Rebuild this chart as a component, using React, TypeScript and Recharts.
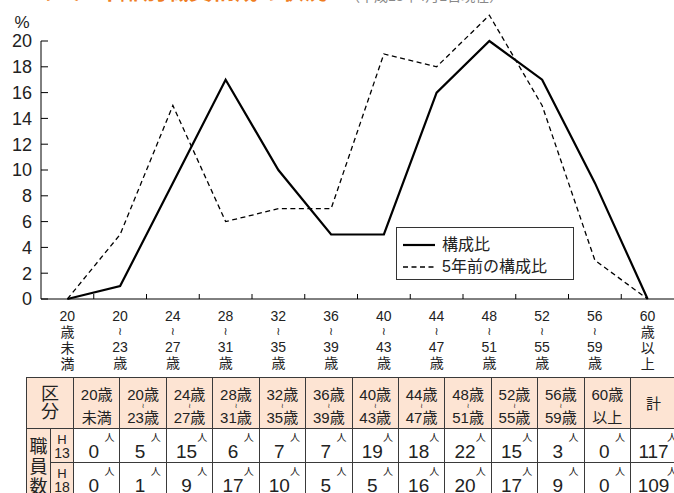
import React from 'react';
import { LineChart, Line, XAxis, YAxis, Legend } from 'recharts';

// ---------- data ----------
const categories = ['20歳未満', '20〜23歳', '24〜27歳', '28〜31歳', '32〜35歳', '36〜39歳', '40〜43歳', '44〜47歳', '48〜51歳', '52〜55歳', '56〜59歳', '60歳以上'];
const ageFrom = ['20', '20', '24', '28', '32', '36', '40', '44', '48', '52', '56', '60'];
const ageTo = ['', '23', '27', '31', '35', '39', '43', '47', '51', '55', '59', ''];
const openEndText = ['未満', '', '', '', '', '', '', '', '', '', '', '以上'];
const staffH18 = [0, 1, 9, 17, 10, 5, 5, 16, 20, 17, 9, 0]; // 構成比
const staffH13 = [0, 5, 15, 6, 7, 7, 19, 18, 22, 15, 3, 0]; // 5年前の構成比
const totalH13 = 117;
const totalH18 = 109;
const yTicks = [0, 2, 4, 6, 8, 10, 12, 14, 16, 18, 20];
const seriesNames = ['構成比', '5年前の構成比'];
const rowLabels = ['13', '18'];

const chartData = categories.map((c, i) => ({ name: c, now: staffH18[i], prev: staffH13[i] }));

// ---------- layout / style ----------
const FONT = '"Liberation Sans", "Noto Sans CJK JP", sans-serif';
const TEXT = '#222';
const W = 674;
const PLOT_LEFT = 41;
const PLOT_TOP = 41;
const CHART_H = 377;
const XAXIS_H = 78;
const HALF_BAND = (W - PLOT_LEFT) / categories.length / 2;

const PEACH = '#fde4d3';
const BORDER = '#3a3a3a';
const T_LEFT = 26;
const T_TOP = 377;
const W_L1 = 24;
const W_L2 = 23;
const W_COL = 46.42;
const W_TOTAL = 52;
const H_HEAD = 51;
const H_ROW = 34;

function XTick(props: any) {
  const { x, y, payload } = props;
  const i = categories.indexOf(payload.value);
  const isRange = ageTo[i] !== '';
  const common = { x, textAnchor: 'middle' as const, fontSize: 14, fill: TEXT, fontFamily: FONT };
  return (
    <g>
      {i < categories.length - 1 && (
        <line x1={x + HALF_BAND} y1={y} x2={x + HALF_BAND} y2={y - 5} stroke="#000" strokeWidth={1} />
      )}
      <text {...common} y={y + 22}>{ageFrom[i]}</text>
      {isRange ? (
        <>
          <text x={x} y={y + 36} textAnchor="middle" fontSize={11} fill={TEXT} fontFamily='"DejaVu Sans", sans-serif'>
            ≀
          </text>
          <text {...common} y={y + 53}>{ageTo[i]}</text>
          <text {...common} y={y + 69}>歳</text>
        </>
      ) : (
        <>
          <text {...common} y={y + 38}>歳</text>
          <text {...common} y={y + 54}>{openEndText[i].charAt(0)}</text>
          <text {...common} y={y + 70}>{openEndText[i].charAt(1)}</text>
        </>
      )}
    </g>
  );
}

function YTick(props: any) {
  const { x, y, payload } = props;
  return (
    <g>
      <line x1={x} y1={y} x2={x + 7} y2={y} stroke="#000" strokeWidth={1} />
      <text x={x - 9} y={y} dy="0.36em" textAnchor="end" fontSize={18} fill={TEXT} fontFamily={FONT}>
        {payload.value}
      </text>
    </g>
  );
}

function LegendBox(props: any) {
  const payload = [...(props.payload || [])].sort(
    (a: any, b: any) => seriesNames.indexOf(a.value) - seriesNames.indexOf(b.value)
  );
  return (
    <div
      style={{
        width: 176,
        height: 45,
        border: '1px solid #333',
        background: '#fff',
        fontFamily: FONT,
        fontSize: 16,
        color: TEXT,
        paddingTop: 6,
        boxSizing: 'content-box',
      }}
    >
      {payload.map((entry: any, k: number) => (
        <div key={k} style={{ display: 'flex', alignItems: 'center', height: 22 }}>
          <svg width={34} height={10} style={{ marginLeft: 6 }}>
            <line
              x1={0}
              y1={5}
              x2={32}
              y2={5}
              stroke="#000"
              strokeWidth={entry.payload?.strokeWidth ?? 1.5}
              strokeDasharray={entry.payload?.strokeDasharray}
            />
          </svg>
          <span style={{ marginLeft: 5, lineHeight: '22px' }}>{entry.value}</span>
        </div>
      ))}
    </div>
  );
}

function Cell({ left, top, width, height, bg, children }: any) {
  return (
    <div
      style={{
        position: 'absolute',
        left,
        top,
        width,
        height,
        background: bg || '#fff',
        borderLeft: `1px solid ${BORDER}`,
        borderTop: `1px solid ${BORDER}`,
        boxSizing: 'border-box',
        overflow: 'visible',
      }}
    >
      {children}
    </div>
  );
}

function Line1({ cy, size, children, dx = 0 }: any) {
  const lh = size;
  return (
    <div
      style={{
        position: 'absolute',
        left: dx,
        right: -dx,
        top: cy - lh / 2,
        height: lh,
        lineHeight: `${lh}px`,
        fontSize: size,
        textAlign: 'center',
        whiteSpace: 'nowrap',
      }}
    >
      {children}
    </div>
  );
}

function Wave({ cy }: any) {
  return (
    <div
      style={{
        position: 'absolute',
        left: 0,
        right: 0,
        top: cy - 3,
        height: 6,
        lineHeight: '6px',
        fontSize: 7,
        textAlign: 'center',
        fontFamily: '"DejaVu Sans", sans-serif',
      }}
    >
      ≀
    </div>
  );
}

function DataTable() {
  const colX = (i: number) => T_LEFT + W_L1 + W_L2 + i * W_COL;
  const totalX = colX(categories.length);
  const rows = [
    { label: rowLabels[0], values: staffH13, total: totalH13 },
    { label: rowLabels[1], values: staffH18, total: totalH18 },
  ];
  const NumCell = ({ left, top, width, value }: any) => (
    <Cell left={left} top={top} width={width} height={H_ROW}>
      <Line1 cy={22} size={19} dx={-3}>{value}</Line1>
      <div style={{ position: 'absolute', right: 5, top: 3, fontSize: 10, lineHeight: '11px' }}>人</div>
    </Cell>
  );
  return (
    <div style={{ position: 'absolute', left: 0, top: 0, width: W, height: 493, overflow: 'hidden', fontFamily: FONT, color: TEXT }}>
      {/* header */}
      <Cell left={T_LEFT} top={T_TOP} width={W_L1 + W_L2} height={H_HEAD} bg={PEACH}>
        <Line1 cy={16} size={18}>区</Line1>
        <Line1 cy={34} size={18}>分</Line1>
      </Cell>
      {categories.map((c, i) => (
        <Cell key={c} left={colX(i)} top={T_TOP} width={W_COL} height={H_HEAD} bg={PEACH}>
          <Line1 cy={16} size={15}>{ageFrom[i]}歳</Line1>
          {ageTo[i] !== '' ? (
            <>
              <Wave cy={27.5} />
              <Line1 cy={39} size={15}>{ageTo[i]}歳</Line1>
            </>
          ) : (
            <Line1 cy={39} size={15}>{openEndText[i]}</Line1>
          )}
        </Cell>
      ))}
      <Cell left={totalX} top={T_TOP} width={W_TOTAL} height={H_HEAD} bg={PEACH}>
        <Line1 cy={25} size={15} dx={-3}>計</Line1>
      </Cell>
      {/* body */}
      <Cell left={T_LEFT} top={T_TOP + H_HEAD} width={W_L1} height={H_ROW * 2} bg={PEACH}>
        <Line1 cy={18} size={18}>職</Line1>
        <Line1 cy={38} size={18}>員</Line1>
        <Line1 cy={58} size={18}>数</Line1>
      </Cell>
      {rows.map((r, k) => {
        const top = T_TOP + H_HEAD + k * H_ROW;
        return (
          <React.Fragment key={r.label}>
            <Cell left={T_LEFT + W_L1} top={top} width={W_L2} height={H_ROW} bg={PEACH}>
              <Line1 cy={10} size={13}>H</Line1>
              <Line1 cy={24} size={14}>{r.label}</Line1>
            </Cell>
            {r.values.map((v, i) => (
              <NumCell key={i} left={colX(i)} top={top} width={W_COL} value={v} />
            ))}
            <NumCell left={totalX} top={top} width={W_TOTAL} value={r.total} />
          </React.Fragment>
        );
      })}
    </div>
  );
}

export default function App() {
  return (
    <div style={{ position: 'absolute', left: 0, top: 0, width: W, height: 493, overflow: 'hidden', background: '#fff' }}>
      <style>{`
        .recharts-wrapper [clip-path]{clip-path:none !important;}
        .recharts-wrapper clipPath rect{y:-100px !important;height:1000px !important;}
        .recharts-surface{overflow:visible}
      `}</style>
      <svg width={W} height={40} style={{ position: 'absolute', left: 0, top: 0 }}>
        <text x={28} y={-1} fontSize={23} fontWeight="bold" fill="#ef7d22" fontFamily={FONT}>
          （二）年齢別職員構成の状況
        </text>
        <text x={346} y={1} fontSize={14} fill="#888" fontFamily={FONT}>
          （平成18年4月1日現在）
        </text>
        <text x={22} y={28} fontSize={17} textAnchor="middle" fill={TEXT} fontFamily={FONT}>
          %
        </text>
      </svg>
      <div style={{ position: 'absolute', left: 0, top: 0 }}>
        <LineChart width={W} height={CHART_H} data={chartData} margin={{ top: PLOT_TOP, right: 0, left: 0, bottom: 0 }}>
          <XAxis
            dataKey="name"
            interval={0}
            height={XAXIS_H}
            padding={{ left: HALF_BAND, right: HALF_BAND }}
            tickSize={0}
            tickMargin={0}
            tickLine={false}
            axisLine={{ stroke: '#000', strokeWidth: 1 }}
            tick={<XTick />}
          />
          <YAxis
            type="number"
            domain={[0, 20]}
            allowDataOverflow
            ticks={yTicks}
            width={PLOT_LEFT}
            tickSize={0}
            tickMargin={0}
            tickLine={false}
            axisLine={{ stroke: '#000', strokeWidth: 1 }}
            tick={<YTick />}
          />
          <Legend
            layout="vertical"
            align="center"
            verticalAlign="middle"
            content={<LegendBox />}
            wrapperStyle={{ position: 'absolute', left: 396, top: 227, width: 'auto', height: 'auto' }}
          />
          <Line
            type="linear"
            dataKey="now"
            name={seriesNames[0]}
            stroke="#000"
            strokeWidth={2.2}
            dot={false}
            activeDot={false}
            isAnimationActive={false}
          />
          <Line
            type="linear"
            dataKey="prev"
            name={seriesNames[1]}
            stroke="#000"
            strokeWidth={1.3}
            strokeDasharray="5 3.5"
            dot={false}
            activeDot={false}
            isAnimationActive={false}
          />
        </LineChart>
      </div>
      <DataTable />
    </div>
  );
}
